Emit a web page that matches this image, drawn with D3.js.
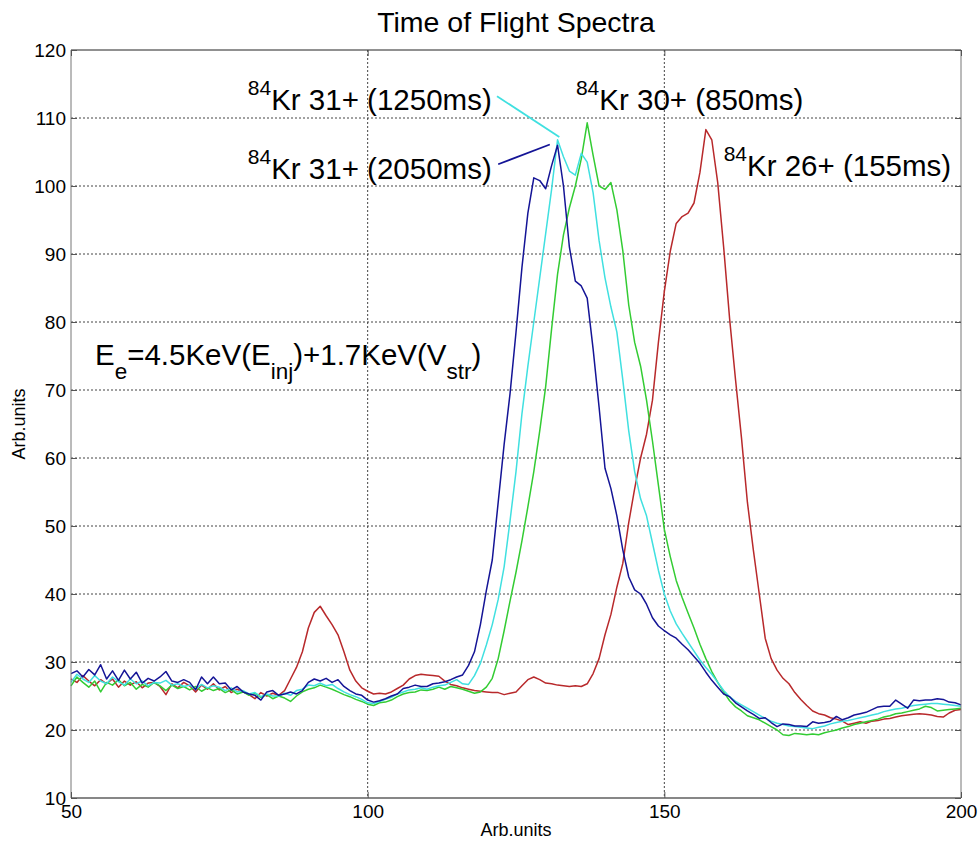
<!DOCTYPE html>
<html><head><meta charset="utf-8">
<script src="https://cdn.jsdelivr.net/npm/d3@7"></script>
<style>
html,body{margin:0;padding:0;background:#fff;}
svg text{font-family:Arial,"Liberation Sans",sans-serif;fill:#000;}
</style></head>
<body>
<svg id="chart" width="978" height="844"></svg>
<script>
// ---------- DATA ----------
const xValues = d3.range(50, 201, 1);
const xTicks = [50, 100, 150, 200];
const yTicks = [10, 20, 30, 40, 50, 60, 70, 80, 90, 100, 110, 120];

// 84Kr 26+ (155ms)
const red = [
27.5,27.0,28.0,27.2,26.5,27.4,26.8,27.5,26.3,27.2, 26.6,27.1,26.2,26.9,27.0,26.4,25.2,26.8,26.2,27.0,
26.5,25.6,26.6,26.0,26.8,25.9,26.4,25.5,26.0,25.6, 25.2,24.6,25.5,25.0,25.4,25.1,25.8,27.5,29.2,31.5,
35.0,37.3,38.2,36.8,35.5,34.0,31.5,28.8,27.2,26.2, 25.7,25.3,25.4,25.3,25.6,26.1,26.6,27.5,28.0,28.2,
28.1,28.0,27.9,27.2,26.7,26.5,26.2,26.0,25.8,25.7, 25.6,25.5,25.5,25.2,25.4,25.6,26.5,27.4,27.8,27.4,
26.9,26.8,26.6,26.5,26.4,26.5,26.4,26.8,28.3,30.5, 34.0,37.0,41.0,44.5,50.5,55.5,60.0,63.5,68.5,77.0,
84.5,90.4,94.5,95.5,96.0,97.5,102.0,108.3,106.8,100.5, 91.0,80.5,71.5,63.0,53.5,46.5,40.0,33.5,30.5,28.8,
27.6,26.8,25.5,24.5,23.6,22.8,22.4,22.2,21.8,21.6, 21.3,20.8,21.0,21.2,21.0,21.3,21.4,21.6,21.7,21.9,
22.1,22.2,22.3,22.4,22.3,22.2,22.0,21.9,22.5,22.9, 23.0];

// 84Kr 30+ (850ms)
const green = [
26.5,27.8,27.0,26.3,27.2,25.6,27.0,26.6,27.4,26.5, 27.0,26.0,26.7,26.3,27.0,26.5,25.8,26.6,26.1,26.4,
25.9,26.4,25.7,26.2,25.8,26.1,25.5,25.9,25.3,25.6, 25.1,25.4,24.8,25.2,24.6,25.0,24.7,24.2,25.0,25.6,
26.0,26.2,26.6,26.3,26.0,25.6,25.2,24.9,24.5,24.2, 23.8,23.6,24.0,24.1,24.4,24.9,25.3,25.5,25.6,25.9,
25.8,26.0,26.3,26.0,26.4,26.2,26.0,25.7,25.4,25.6, 26.3,27.6,30.5,34.6,39.0,43.2,47.8,52.8,58.0,64.0,
70.5,79.0,87.0,92.8,96.8,100.0,104.0,109.3,104.5,100.0, 99.5,100.5,96.5,90.5,82.5,77.0,73.5,68.5,62.5,56.0,
49.5,45.5,42.0,39.5,37.2,35.0,32.6,30.5,28.6,27.0, 25.6,24.3,23.4,22.8,22.1,21.8,21.5,21.0,20.5,20.0,
19.3,19.2,19.5,19.4,19.3,19.4,19.3,19.6,19.8,20.0, 20.3,20.5,20.8,21.0,21.2,21.4,21.6,21.9,22.1,22.4,
22.5,22.7,22.9,23.1,23.5,23.3,22.8,22.9,23.0,23.1, 23.2];

// 84Kr 31+ (1250ms)
const cyan = [
27.0,28.2,27.5,27.0,28.0,27.2,26.8,27.8,27.1,26.6, 27.5,26.8,27.2,26.5,27.0,26.9,27.3,26.6,26.8,26.4,
26.6,26.0,26.7,26.2,26.5,26.3,25.8,26.2,25.6,25.8, 25.3,25.5,24.9,25.3,25.0,25.0,25.4,25.1,25.8,26.0,
26.6,26.5,26.9,26.5,26.7,26.1,25.6,25.2,24.9,24.5, 24.0,23.9,24.2,24.5,24.8,25.3,25.6,25.9,26.0,26.2,
26.0,26.3,26.5,26.6,27.0,27.4,26.8,26.7,28.0,29.8, 32.5,35.5,39.2,44.0,50.8,58.0,66.5,73.5,80.0,86.5,
93.0,99.5,106.8,104.3,102.2,101.6,104.8,103.5,99.0,92.0, 86.5,82.2,78.5,71.5,64.0,58.0,54.0,51.5,47.5,43.5,
40.0,37.5,35.6,34.2,32.9,31.6,30.3,29.2,28.2,27.0, 25.8,24.9,24.2,23.7,23.2,22.7,22.2,21.7,21.3,21.0,
20.8,20.6,20.5,20.4,20.3,20.2,20.4,20.6,20.9,21.1, 21.3,21.4,21.6,21.8,22.0,22.2,22.4,22.7,22.9,23.1,
23.2,23.4,23.6,23.7,23.8,23.9,23.9,23.8,23.7,23.6, 23.5];

// 84Kr 31+ (2050ms)
const navy = [
28.3,28.7,27.8,28.9,28.1,29.6,27.5,28.7,27.3,28.8, 27.5,28.5,26.9,27.6,27.2,27.8,28.6,27.2,27.0,27.4,
27.0,25.9,27.8,26.8,27.8,26.8,26.9,25.9,26.4,25.6, 25.3,25.1,24.4,25.6,25.8,25.1,25.3,25.6,25.3,25.8,
27.0,27.5,27.2,27.6,27.0,27.4,26.4,25.8,25.3,25.1, 24.4,24.1,24.3,24.6,25.0,25.3,26.1,26.3,26.6,26.4,
26.4,26.8,26.9,27.1,27.4,27.8,28.1,29.5,31.5,35.5, 40.5,45.0,53.5,62.0,69.5,78.5,88.0,96.0,101.2,100.8,
99.6,103.0,106.0,100.0,91.0,86.0,85.3,83.5,76.0,67.5, 58.5,55.5,51.5,46.5,42.5,40.6,40.0,38.5,36.5,35.3,
34.6,34.0,33.5,32.6,31.8,30.8,29.8,28.5,27.3,26.3, 25.3,24.9,24.0,23.4,22.8,22.3,21.7,21.8,21.1,20.5,
20.9,20.8,20.6,20.6,20.5,21.2,21.0,21.1,21.3,22.0, 21.5,21.8,22.2,22.4,22.6,23.0,23.4,23.5,23.5,24.4,
23.8,23.2,24.4,24.3,24.4,24.4,24.6,24.5,24.1,24.0, 23.7];

const seriesNames = ["84Kr 26+ (155ms)", "84Kr 30+ (850ms)", "84Kr 31+ (1250ms)", "84Kr 31+ (2050ms)"];
const seriesColors = ["#b8292b", "#33cc33", "#40e0e0", "#141496"];
const seriesValues = [red, green, cyan, navy];

// annotation labels: [sup, main, x, y] in data units
const labelSup = ["84", "84", "84", "84"];
const labelMain = ["Kr 31+ (1250ms)", "Kr 30+ (850ms)", "Kr 31+ (2050ms)", "Kr 26+ (155ms)"];
const labelX = [79.8, 135.1, 79.8, 160.0];
const labelY = [111.2, 111.2, 101.1, 101.4];
const pointerFromX = [121.8, 122.0];
const pointerFromY = [113.2, 103.2];
const pointerToX = [132.3, 130.7];
const pointerToY = [107.2, 106.1];
const pointerColors = ["#40e0e0", "#141496"];

// ---------- CHART ----------
const svg = d3.select("#chart");
const m = {left: 71, right: 961, top: 50, bottom: 798};
const x = d3.scaleLinear().domain([50, 200]).range([m.left, m.right]);
const y = d3.scaleLinear().domain([10, 120]).range([m.bottom, m.top]);

// grid
const grid = svg.append("g");
grid.selectAll("line.gx").data(xTicks.slice(1, -1)).join("line")
  .attr("x1", d => x(d)).attr("x2", d => x(d)).attr("y1", m.top).attr("y2", m.bottom)
  .attr("stroke", "#444").attr("stroke-width", 1).attr("stroke-dasharray", "2,2");
grid.selectAll("line.gy").data(yTicks.slice(1, -1)).join("line")
  .attr("y1", d => y(d)).attr("y2", d => y(d)).attr("x1", m.left).attr("x2", m.right)
  .attr("stroke", "#444").attr("stroke-width", 1).attr("stroke-dasharray", "2,2");

// lines
const line = d3.line().x((d, i) => x(xValues[i])).y(d => y(d));
svg.append("g").selectAll("path").data(seriesValues).join("path")
  .attr("d", d => line(d)).attr("fill", "none")
  .attr("stroke", (d, i) => seriesColors[i]).attr("stroke-width", 1.5)
  .attr("stroke-linejoin", "round");

// box
svg.append("line").attr("x1", m.left).attr("x2", m.right).attr("y1", m.top).attr("y2", m.top).attr("stroke", "#222");
svg.append("line").attr("x1", m.left).attr("x2", m.right).attr("y1", m.bottom).attr("y2", m.bottom).attr("stroke", "#111").attr("stroke-width", 1.2);
svg.append("line").attr("x1", m.left).attr("x2", m.left).attr("y1", m.top).attr("y2", m.bottom).attr("stroke", "#777");
svg.append("line").attr("x1", m.right).attr("x2", m.right).attr("y1", m.top).attr("y2", m.bottom).attr("stroke", "#777");

// axes (ticks inward, labels outside)
const yAxis = d3.axisLeft(y).tickValues(yTicks).tickSize(-6).tickPadding(5).tickFormat(d3.format("d"));
const gy = svg.append("g").attr("transform", `translate(${m.left},0)`).call(yAxis);
gy.select(".domain").remove();
gy.selectAll(".tick line").attr("stroke", "#555");
gy.selectAll(".tick text").attr("font-size", 19).attr("fill", "#000")
  .style("font-family", "Arial, 'Liberation Sans', sans-serif");

const yAxisR = d3.axisRight(y).tickValues(yTicks).tickSize(-6).tickFormat("");
const gyr = svg.append("g").attr("transform", `translate(${m.right},0)`).call(yAxisR);
gyr.select(".domain").remove();
gyr.selectAll(".tick line").attr("stroke", "#555");

const xAxis = d3.axisBottom(x).tickValues(xTicks).tickSize(-6).tickPadding(7).tickFormat(d3.format("d"));
const gx = svg.append("g").attr("transform", `translate(0,${m.bottom})`).call(xAxis);
gx.select(".domain").remove();
gx.selectAll(".tick line").attr("stroke", "#555");
gx.selectAll(".tick text").attr("font-size", 19).attr("fill", "#000")
  .style("font-family", "Arial, 'Liberation Sans', sans-serif");

const xAxisT = d3.axisTop(x).tickValues(xTicks).tickSize(-6).tickFormat("");
const gxt = svg.append("g").attr("transform", `translate(0,${m.top})`).call(xAxisT);
gxt.select(".domain").remove();
gxt.selectAll(".tick line").attr("stroke", "#555");

// title and axis labels
svg.append("text").attr("x", (m.left + m.right) / 2).attr("y", 32)
  .attr("text-anchor", "middle").attr("font-size", 28.5).text("Time of Flight Spectra");
svg.append("text").attr("x", (m.left + m.right) / 2).attr("y", 836)
  .attr("text-anchor", "middle").attr("font-size", 18).text("Arb.units");
svg.append("text").attr("transform", `translate(25,${(m.top + m.bottom) / 2}) rotate(-90)`)
  .attr("text-anchor", "middle").attr("font-size", 18).text("Arb.units");

// pointer lines
svg.append("g").selectAll("line").data(pointerFromX).join("line")
  .attr("x1", (d, i) => x(pointerFromX[i])).attr("y1", (d, i) => y(pointerFromY[i]))
  .attr("x2", (d, i) => x(pointerToX[i])).attr("y2", (d, i) => y(pointerToY[i]))
  .attr("stroke", (d, i) => pointerColors[i]).attr("stroke-width", 1.8);

// annotation labels
labelMain.forEach((t, i) => {
  const tx = svg.append("text").attr("x", x(labelX[i])).attr("y", y(labelY[i])).attr("font-size", 29.5);
  tx.append("tspan").attr("font-size", 21).attr("dy", -15).text(labelSup[i]);
  tx.append("tspan").attr("dy", 15).text(t);
});

// formula
const f = svg.append("text").attr("x", 95).attr("y", 365).attr("font-size", 29.5);
const parts = [["E", 0], ["e", 1], ["=4.5KeV(E", 0], ["inj", 1], [")+1.7KeV(V", 0], ["str", 1], [")", 0]];
let prev = 0;
parts.forEach(([t, sub]) => {
  const dy = (sub ? 14 : 0) - (prev ? 14 : 0);
  f.append("tspan").attr("dy", dy).attr("font-size", sub ? 22.5 : 29.5).text(t);
  prev = sub;
});
</script>
</body></html>
